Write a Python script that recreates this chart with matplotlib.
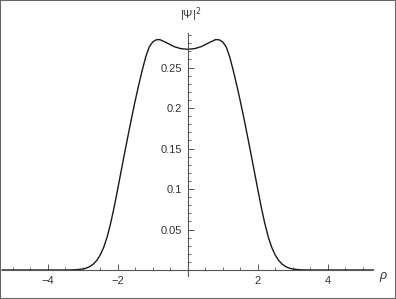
import numpy as np
import matplotlib
matplotlib.use("Agg")
from matplotlib import pyplot as plt
from matplotlib.ticker import FixedLocator, MultipleLocator
from matplotlib.patches import Rectangle

# |Psi|^2 for rho >= 0 (curve is symmetric)
rho_half = [0.0, 0.2, 0.4, 0.6, 0.8, 0.9, 1.0, 1.1, 1.2, 1.3, 1.4, 1.5, 1.6,
            1.7, 1.8, 1.9, 2.0, 2.1, 2.2, 2.3, 2.4, 2.5, 2.6, 2.7, 2.8, 2.9,
            3.0, 3.2, 3.5, 5.3]
psi2_half = [0.2725, 0.2733, 0.2760, 0.2805, 0.2845, 0.2842, 0.2815, 0.2755,
             0.2630, 0.2465, 0.2285, 0.2090, 0.1885, 0.1670, 0.1450, 0.1225,
             0.1000, 0.0780, 0.0580, 0.0410, 0.0280, 0.0185, 0.0118, 0.0072,
             0.0042, 0.0023, 0.0012, 0.0003, 0.0, 0.0]

x_major = [-4, -2, 2, 4]
x_labels = ["\u22124", "\u22122", "2", "4"]
y_major = [0.05, 0.1, 0.15, 0.2, 0.25]
y_labels = ["0.05", "0.1", "0.15", "0.2", "0.25"]

rho = np.concatenate([-np.array(rho_half[:0:-1]), np.array(rho_half)])
psi2 = np.concatenate([np.array(psi2_half[:0:-1]), np.array(psi2_half)])

plt.rcParams['font.family'] = ['Liberation Sans', 'DejaVu Sans']
W, H = 396, 299
fig = plt.figure(figsize=(W / 100, H / 100), dpi=100)
fig.patch.set_facecolor('white')

# axes box in pixels: left 2, right 371, bottom 23, top 266 (from bottom)
ax = fig.add_axes([2 / W, 23 / H, 369 / W, 243 / H])
ax.set_xlim(-5.306, 5.237)
ax.set_ylim(-0.0074, 0.2926)
ax.patch.set_alpha(0)

ax.plot(rho, psi2, color='#1a1a1a', lw=1.0, clip_on=False)

axcol = '#555555'
for s in ['top', 'right']:
    ax.spines[s].set_visible(False)
ax.spines['left'].set_position(('data', 0))
ax.spines['bottom'].set_position(('data', 0))
ax.spines['left'].set_color(axcol)
ax.spines['bottom'].set_color(axcol)
ax.spines['left'].set_linewidth(0.8)
ax.spines['bottom'].set_linewidth(0.8)

ax.xaxis.set_major_locator(FixedLocator(x_major))
ax.set_xticklabels(x_labels)
ax.xaxis.set_minor_locator(MultipleLocator(0.5))
ax.yaxis.set_major_locator(FixedLocator(y_major))
ax.set_yticklabels(y_labels)
ax.yaxis.set_minor_locator(MultipleLocator(0.01))

ax.tick_params(axis='x', which='major', direction='in', length=4, width=0.7,
               color=axcol, labelsize=8, labelcolor='#333333', pad=4)
ax.tick_params(axis='x', which='minor', direction='in', length=2.5, width=0.6,
               color=axcol)
ax.tick_params(axis='y', which='major', direction='in', length=4, width=0.7,
               color=axcol, labelsize=8, labelcolor='#333333', pad=4)
ax.tick_params(axis='y', which='minor', direction='in', length=2.5, width=0.6,
               color=axcol)

fig.text(180 / W, 1 - 15 / H, "|\u03a8|$^2$", fontsize=8, color='#333333',
         ha='left', va='center')
fig.text(383 / W, 1 - 276 / H, "\u03c1", fontsize=9, color='#333333',
         ha='center', va='center', style='italic')

fig.patches.append(Rectangle((0, 0), 1, 1, transform=fig.transFigure,
                             fill=False, edgecolor='#666666', lw=1.5))

fig.savefig("out.png", dpi=100)
